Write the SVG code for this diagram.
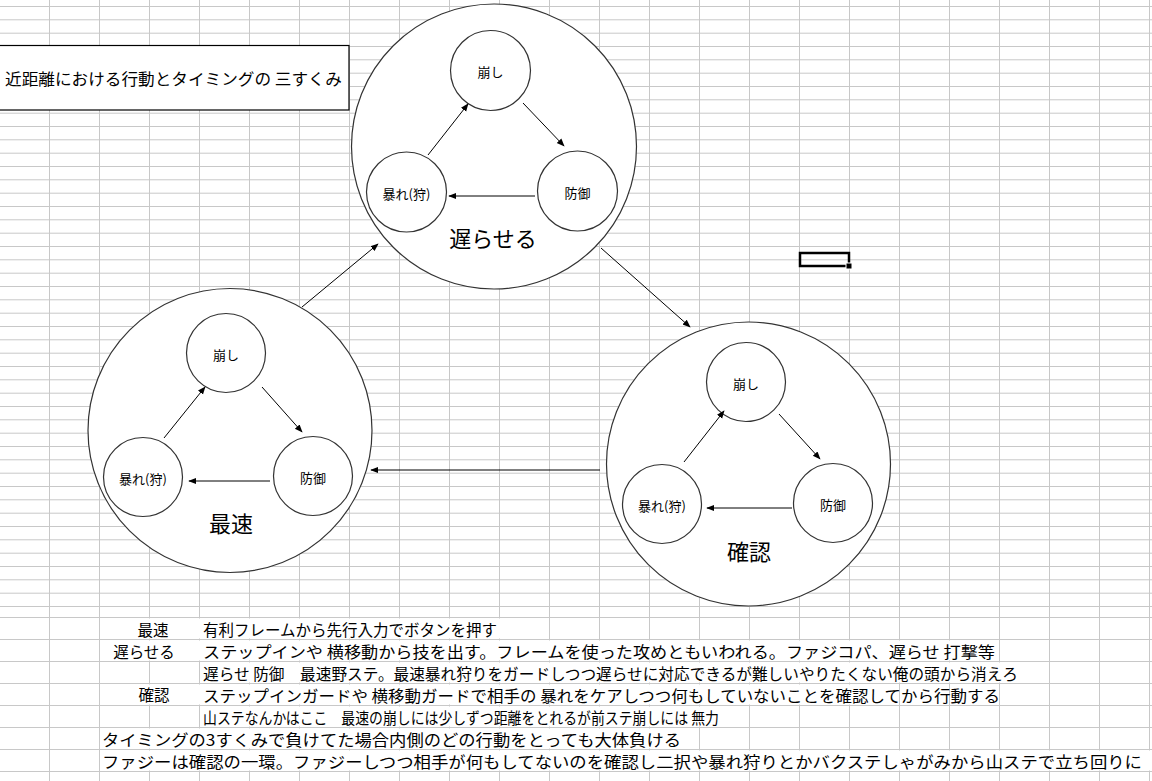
<svg xmlns="http://www.w3.org/2000/svg" width="1152" height="781" viewBox="0 0 1152 781">
<style>
.g{stroke:#c8c8c8;stroke-width:1;fill:none}
.big{fill:#fff;stroke:#333;stroke-width:1.2}
.sm{fill:#fff;stroke:#333;stroke-width:1.2}
.t{font-family:"Noto Sans CJK JP","Liberation Sans",sans-serif;fill:#000}
.n{font-size:13px;text-anchor:middle;dominant-baseline:central}
.lb{font-size:22px;text-anchor:middle;dominant-baseline:central}
.r{font-size:15.5px;dominant-baseline:central}
.c{stroke:#000;stroke-width:1;marker-end:url(#ah)}
.m{fill:#fff}
</style>
<defs>
<marker id="ah" viewBox="0 0 10 10" refX="9" refY="5" markerWidth="8" markerHeight="8" orient="auto" markerUnits="userSpaceOnUse"><path d="M0,1 L10,5 L0,9 z" fill="#000"/></marker>
</defs>
<rect width="1152" height="781" fill="#fff"/>
<g id="grid" class="g">
<path d="M49.5,0V781M99.5,0V781M149.5,0V781M199.5,0V781M249.5,0V781M299.5,0V781M349.5,0V781M399.5,0V781M449.5,0V781M499.5,0V781M549.5,0V781M599.5,0V781M649.5,0V781M699.5,0V781M749.5,0V781M799.5,0V781M849.5,0V781M899.5,0V781M949.5,0V781M999.5,0V781M1049.5,0V781M1099.5,0V781M1149.5,0V781"/>
<path d="M0,6.5H1152M0,19.8H1152M0,33.2H1152M0,46.5H1152M0,59.8H1152M0,73.2H1152M0,86.5H1152M0,99.8H1152M0,113.2H1152M0,126.5H1152M0,139.8H1152M0,153.2H1152M0,166.5H1152M0,179.8H1152M0,193.2H1152M0,206.5H1152M0,219.8H1152M0,233.2H1152M0,246.5H1152M0,259.8H1152M0,273.2H1152M0,286.5H1152M0,299.8H1152M0,313.2H1152M0,326.5H1152M0,339.8H1152M0,353.2H1152M0,366.5H1152M0,379.8H1152M0,393.2H1152M0,406.5H1152M0,419.8H1152M0,433.2H1152M0,446.5H1152M0,459.8H1152M0,473.2H1152M0,486.5H1152M0,499.8H1152M0,513.2H1152M0,526.5H1152M0,539.8H1152M0,553.2H1152M0,566.5H1152M0,579.8H1152M0,593.2H1152M0,606.5H1152M0,617.5H1152M0,639.5H1152M0,661.5H1152M0,683.5H1152M0,705.5H1152M0,727.5H1152M0,749.5H1152M0,771.5H1152"/>
</g>
<g id="masks" class="m">
<rect x="101" y="618.5" width="440" height="20"/>
<rect x="101" y="640.5" width="895" height="20"/>
<rect x="201" y="662.5" width="820" height="20"/>
<rect x="101" y="684.5" width="775" height="20"/>
<rect x="201" y="706.5" width="520" height="20"/>
<rect x="101" y="728.5" width="585" height="20"/>
<rect x="101" y="750.5" width="1051" height="20"/>
</g>
<g id="title">
<rect x="-1" y="45.5" width="350" height="64.5" fill="#fff" stroke="#000" stroke-width="1.2"/>
<text class="t" x="5" y="78" font-size="16" dominant-baseline="central" textLength="337" lengthAdjust="spacingAndGlyphs">近距離における行動とタイミングの 三すくみ</text>
</g>
<g id="group-osoraseru">
<circle class="big" cx="494" cy="146.5" r="142.5"/>
<g id="n1-kuzushi"><circle class="sm" cx="490.5" cy="70.5" r="40"/><text class="t n" x="490.5" y="71">崩し</text></g>
<g id="n1-abare"><circle class="sm" cx="406.5" cy="192" r="40"/><text class="t n" x="406.5" y="193">暴れ(狩)</text></g>
<g id="n1-bougyo"><circle class="sm" cx="577.5" cy="191" r="40"/><text class="t n" x="577.5" y="192">防御</text></g>
<text class="t lb" x="493" y="237">遅らせる</text>
</g>
<g id="group-saisoku">
<circle class="big" cx="230" cy="430.5" r="142"/>
<g id="n2-kuzushi"><circle class="sm" cx="226" cy="353" r="39.5"/><text class="t n" x="226" y="354">崩し</text></g>
<g id="n2-abare"><circle class="sm" cx="143" cy="477" r="39.5"/><text class="t n" x="143" y="478">暴れ(狩)</text></g>
<g id="n2-bougyo"><circle class="sm" cx="313" cy="476" r="39.5"/><text class="t n" x="313" y="477">防御</text></g>
<text class="t lb" x="231" y="522">最速</text>
</g>
<g id="group-kakunin">
<circle class="big" cx="748.5" cy="464" r="142"/>
<g id="n3-kuzushi"><circle class="sm" cx="746" cy="382" r="39.5"/><text class="t n" x="746" y="383">崩し</text></g>
<g id="n3-abare"><circle class="sm" cx="662" cy="504" r="39.5"/><text class="t n" x="662" y="505">暴れ(狩)</text></g>
<g id="n3-bougyo"><circle class="sm" cx="833" cy="503" r="39.5"/><text class="t n" x="833" y="504">防御</text></g>
<text class="t lb" x="749" y="550">確認</text>
</g>
<g id="connectors">
<line class="c" x1="428" y1="155" x2="468" y2="104"/>
<line class="c" x1="523" y1="103" x2="564" y2="146"/>
<line class="c" x1="535" y1="196" x2="449" y2="196"/>
<line class="c" x1="164" y1="438" x2="205" y2="387"/>
<line class="c" x1="262" y1="387" x2="302" y2="432"/>
<line class="c" x1="270" y1="481" x2="189" y2="481"/>
<line class="c" x1="684" y1="462" x2="724" y2="411"/>
<line class="c" x1="779" y1="414" x2="820" y2="459"/>
<line class="c" x1="792" y1="508" x2="707" y2="508"/>
<line class="c" x1="302" y1="307" x2="378" y2="244"/>
<line class="c" x1="601" y1="248" x2="690" y2="327"/>
<line class="c" x1="600" y1="470" x2="371" y2="470"/>
</g>
<g id="selection">
<rect x="800" y="253" width="49" height="13" fill="none" stroke="#000" stroke-width="2.5"/>
<rect x="846" y="263" width="6" height="6" fill="#000" stroke="#fff" stroke-width="1"/>
</g>
<g id="notes" class="t r">
<text x="153" y="629" text-anchor="middle">最速</text>
<text x="203" y="629">有利フレームから先行入力でボタンを押す</text>
<text x="144" y="651" text-anchor="middle">遅らせる</text>
<text x="203" y="651" textLength="792" lengthAdjust="spacingAndGlyphs">ステップインや 横移動から技を出す。フレームを使った攻めともいわれる。ファジコパ、遅らせ 打撃等</text>
<text x="203" y="673" textLength="815" lengthAdjust="spacingAndGlyphs">遅らせ 防御　最速野ステ。最速暴れ狩りをガードしつつ遅らせに対応できるが難しいやりたくない俺の頭から消えろ</text>
<text x="154" y="694" text-anchor="middle">確認</text>
<text x="203" y="695" textLength="797" lengthAdjust="spacingAndGlyphs">ステップインガードや 横移動ガードで相手の 暴れをケアしつつ何もしていないことを確認してから行動する</text>
<text x="203" y="717" textLength="516" lengthAdjust="spacingAndGlyphs">山ステなんかはここ　最速の崩しには少しずつ距離をとれるが前ステ崩しには 無力</text>
<text x="102" y="739" textLength="579" lengthAdjust="spacingAndGlyphs">タイミングの3すくみで負けてた場合内側のどの行動をとっても大体負ける</text>
<text x="102" y="761" textLength="1040" lengthAdjust="spacingAndGlyphs">ファジーは確認の一環。ファジーしつつ相手が何もしてないのを確認し二択や暴れ狩りとかバクステしゃがみから山ステで立ち回りに</text>
</g>
</svg>
